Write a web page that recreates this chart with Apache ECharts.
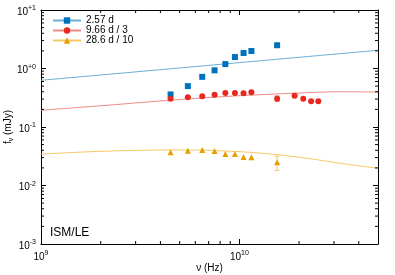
<!DOCTYPE html>
<html>
<head>
<meta charset="utf-8">
<script src="https://cdn.jsdelivr.net/npm/echarts@6/dist/echarts.min.js"></script>
<style>html,body{margin:0;padding:0;background:#fff}#c{width:395px;height:275px}</style>
</head>
<body>
<div id="c"></div>
<script>
// ---- data ----
const seriesNames = ['2.57 d', '9.66 d / 3', '28.6 d / 10'];

const freqBlue = [4.5e9, 5.5e9, 6.5e9, 7.5e9, 8.5e9, 9.5e9, 1.05e10, 1.15e10, 1.55e10];
const fluxBlue = [0.36, 0.50, 0.72, 0.93, 1.19, 1.57, 1.84, 1.99, 2.50];

const freqRed = [4.5e9, 5.5e9, 6.5e9, 7.5e9, 8.5e9, 9.5e9, 1.05e10, 1.15e10, 1.55e10, 1.9e10, 2.1e10, 2.3e10, 2.5e10];
const fluxRed = [0.305, 0.322, 0.335, 0.357, 0.381, 0.381, 0.377, 0.392, 0.305, 0.343, 0.305, 0.275, 0.275];

const freqYel = [4.5e9, 5.5e9, 6.5e9, 7.5e9, 8.5e9, 9.5e9, 1.05e10, 1.15e10, 1.55e10];
const fluxYel = [0.0370, 0.0394, 0.0405, 0.0389, 0.0345, 0.0345, 0.0307, 0.0303, 0.0249];

// error bars: [freq, low, high]
const errRed = [[1.55e10, 0.275, 0.34]];
const errYel = [[1.55e10, 0.0182, 0.0316]];

// model curves
const modelFreqBlue = [1e9, 1e10, 5e10];
const modelBlue = [0.628, 1.26, 2.05];
const modelFreqRed = [1e9, 2.15e9, 4.65e9, 1.01e10, 2.2e10, 3.24e10, 5e10];
const modelRed = [0.193, 0.235, 0.290, 0.343, 0.386, 0.401, 0.396];
const modelFreqYel = [1e9, 1.77e9, 3.16e9, 5.66e9, 1.01e10, 1.49e10, 2.2e10, 3.24e10, 5e10];
const modelYel = [0.0345, 0.0378, 0.0400, 0.0405, 0.0378, 0.0341, 0.0292, 0.0239, 0.0197];

// axis ranges / minor tick values
const xMin = 1e9, xMax = 5e10, yMin = 1e-3, yMax = 10;
const xMinorTicks = [2e9, 3e9, 4e9, 5e9, 6e9, 7e9, 8e9, 9e9, 2e10, 3e10, 4e10];
const yMinorTicks = [];
[1e-3, 1e-2, 1e-1, 1].forEach(d => { for (let k = 2; k <= 9; k++) yMinorTicks.push(+(d * k).toPrecision(3)); });

// ---- chart ----
const FONT = "'Liberation Sans', Arial, Helvetica, sans-serif";
const cBlue = '#0072bd', cBlueL = '#6aaed6';
const cRed = '#e8281e', cRedL = '#f08a84';
const cYel = '#e69f00', cYelL = '#f5c865';

const zip = (a, b) => a.map((v, i) => [v, b[i]]);
const isPow10 = v => Math.abs(Math.log10(v) - Math.round(Math.log10(v))) < 1e-6;

const supRich = {
  b: { fontSize: 10, lineHeight: 14, fontFamily: FONT, color: '#000' },
  s: { fontSize: 7, lineHeight: 7, verticalAlign: 'top', fontFamily: FONT, color: '#000' }
};

function minorRender(kind) {
  return function (params, api) {
    const v = api.value(kind === 'x' ? 0 : 1);
    let a1, a2, b1, b2;
    if (kind === 'x') {
      const p = api.coord([v, yMin]), q = api.coord([v, yMax]);
      a1 = [p[0], p[1]]; a2 = [p[0], p[1] - 3];
      b1 = [q[0], q[1]]; b2 = [q[0], q[1] + 3];
    } else {
      const p = api.coord([xMin, v]), q = api.coord([xMax, v]);
      a1 = [p[0], p[1]]; a2 = [p[0] + 3, p[1]];
      b1 = [q[0], q[1]]; b2 = [q[0] - 3, q[1]];
    }
    const st = { stroke: '#000', lineWidth: 1 };
    return { type: 'group', children: [
      { type: 'line', shape: { x1: a1[0], y1: a1[1], x2: a2[0], y2: a2[1] }, style: st },
      { type: 'line', shape: { x1: b1[0], y1: b1[1], x2: b2[0], y2: b2[1] }, style: st }
    ] };
  };
}

function errRender(color) {
  return function (params, api) {
    const x = api.value(0);
    const lo = api.coord([x, api.value(1)]);
    const hi = api.coord([x, api.value(2)]);
    const st = { stroke: color, lineWidth: 1 };
    return { type: 'group', children: [
      { type: 'line', shape: { x1: lo[0], y1: lo[1], x2: hi[0], y2: hi[1] }, style: st },
      { type: 'line', shape: { x1: lo[0] - 2.5, y1: lo[1], x2: lo[0] + 2.5, y2: lo[1] }, style: st },
      { type: 'line', shape: { x1: hi[0] - 2.5, y1: hi[1], x2: hi[0] + 2.5, y2: hi[1] }, style: st }
    ] };
  };
}

function modelSeries(name, data, lc, mc, sym) {
  return { type: 'line', name, data, smooth: 0.3, showSymbol: false, symbol: sym, symbolSize: 6,
    lineStyle: { color: lc, width: 1 }, itemStyle: { color: mc }, z: 2, silent: true };
}
function pointSeries(name, data, mc, sym) {
  return { type: 'scatter', name, data, symbol: sym, symbolSize: 6,
    itemStyle: { color: mc, opacity: 1 }, z: 4 };
}

const axisCommon = {
  type: 'log', logBase: 10,
  axisLine: { show: true, onZero: false, lineStyle: { color: '#000', width: 1 } },
  axisTick: { show: true, inside: true, length: 5, lineStyle: { color: '#000', width: 1 } },
  splitLine: { show: false }, minorTick: { show: false }, minorSplitLine: { show: false }
};

const option = {
  animation: false,
  backgroundColor: '#fff',
  textStyle: { fontFamily: FONT },
  grid: { left: 41, right: 17, top: 10, bottom: 31, containLabel: false, outerBoundsMode: 'none' },
  title: { text: 'ISM/LE', left: 50, top: 227, padding: 0,
    textStyle: { fontSize: 12, fontWeight: 'normal', fontFamily: FONT, color: '#000' } },
  legend: {
    data: seriesNames, orient: 'vertical', left: 52, top: 15.5, padding: 0,
    itemWidth: 28, itemHeight: 8, itemGap: 0,
    textStyle: { fontSize: 10, lineHeight: 9.6, fontFamily: FONT, color: '#000' }
  },
  xAxis: [
    Object.assign({}, axisCommon, {
      position: 'bottom', min: xMin, max: xMax, interval: 1,
      name: 'ν (Hz)', nameLocation: 'middle', nameGap: 19, nameMoveOverlap: false,
      nameTextStyle: { fontSize: 10, fontFamily: FONT, color: '#000' },
      axisLabel: { show: true, margin: 6, showMaxLabel: false, rich: supRich,
        formatter: v => isPow10(v) ? '{b|10}{s|' + Math.round(Math.log10(v)) + '}' : '' }
    }),
    Object.assign({}, axisCommon, {
      position: 'top', min: xMin, max: xMax, interval: 1, axisLabel: { show: false }
    })
  ],
  yAxis: [
    Object.assign({}, axisCommon, {
      position: 'left', min: yMin, max: yMax, interval: 1,
      name: '{a|f}{u|ν}{a| (mJy)}', nameLocation: 'middle', nameGap: 26, nameMoveOverlap: false,
      nameTextStyle: { rich: {
        a: { fontSize: 10, lineHeight: 14, fontFamily: FONT, color: '#000' },
        u: { fontSize: 7, lineHeight: 7, verticalAlign: 'bottom', fontFamily: FONT, color: '#000' } } },
      axisLabel: { show: true, margin: 5, padding: [4, 0, 0, 0], rich: supRich,
        formatter: v => {
          if (!isPow10(v)) return '';
          const e = Math.round(Math.log10(v));
          return '{b|10}{s|' + (e >= 0 ? '+' + e : e) + '}';
        } }
    }),
    Object.assign({}, axisCommon, {
      position: 'right', min: yMin, max: yMax, interval: 1, axisLabel: { show: false }
    })
  ],
  series: [
    modelSeries(seriesNames[0], zip(modelFreqBlue, modelBlue), cBlueL, cBlue, 'rect'),
    modelSeries(seriesNames[1], zip(modelFreqRed, modelRed), cRedL, cRed, 'circle'),
    modelSeries(seriesNames[2], zip(modelFreqYel, modelYel), cYelL, cYel, 'triangle'),
    { type: 'custom', data: errRed, renderItem: errRender(cRedL), encode: { x: 0, y: 1 }, z: 3, silent: true },
    { type: 'custom', data: errYel, renderItem: errRender(cYelL), encode: { x: 0, y: 1 }, z: 3, silent: true },
    pointSeries(seriesNames[0], zip(freqBlue, fluxBlue), cBlue, 'rect'),
    pointSeries(seriesNames[1], zip(freqRed, fluxRed), cRed, 'circle'),
    pointSeries(seriesNames[2], zip(freqYel, fluxYel), cYel, 'triangle'),
    { type: 'custom', data: xMinorTicks.map(v => [v, yMin]), renderItem: minorRender('x'), encode: { x: 0, y: 1 }, z: 5, silent: true },
    { type: 'custom', data: yMinorTicks.map(v => [xMin, v]), renderItem: minorRender('y'), encode: { x: 0, y: 1 }, z: 5, silent: true }
  ]
};

const chart = echarts.init(document.getElementById('c'), null, { renderer: 'canvas' });
chart.setOption(option);
</script>
</body>
</html>
